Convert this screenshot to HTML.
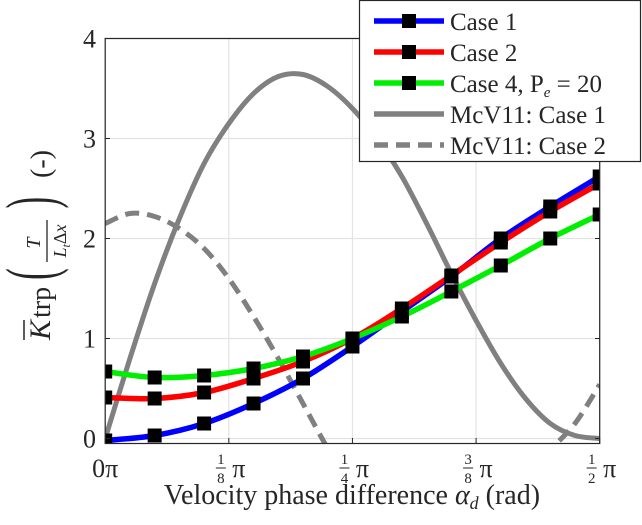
<!DOCTYPE html>
<html><head><meta charset="utf-8"><style>
html,body{margin:0;padding:0;background:#fff;overflow:hidden;width:642px;height:525px;}
svg{display:block;}
text{font-family:'Liberation Serif','DejaVu Serif',serif;}
</style></head><body>
<svg id="chart" width="642" height="525" viewBox="0 0 642 525" xmlns="http://www.w3.org/2000/svg">
<defs><clipPath id="pc"><rect x="105" y="38" width="495" height="406"/></clipPath></defs>
<g id="grid"></g>
<g id="series" clip-path="url(#pc)"></g>
<rect x="105.2" y="38.5" width="494.5" height="405" fill="none" stroke="#262626" stroke-width="1.2"/>
<g id="ticks"></g>
<text x="352" y="504" font-family="'Liberation Serif', serif" font-size="28" text-anchor="middle" fill="#262626">Velocity phase difference <tspan font-style="italic">α</tspan><tspan font-style="italic" font-size="18" dy="5">d</tspan><tspan dy="-5"> (rad)</tspan></text>
<g transform="translate(50,240) rotate(-90)" fill="#262626" font-family="'Liberation Serif', serif">
 <text x="-100" y="0" font-size="30" font-style="italic">K</text>
 <line x1="-100" y1="-26" x2="-80" y2="-26" stroke="#262626" stroke-width="1.5"/>
 <text x="-78" y="0" font-size="28">trp</text>
 <text x="-40" y="6" font-size="50" transform="scale(0.7,1.4) translate(-17,-3)">(</text>
 <text x="-3" y="-10" font-size="20" font-style="italic" text-anchor="middle">T</text>
 <line x1="-22" y1="-3" x2="20" y2="-3" stroke="#262626" stroke-width="1.3"/>
 <text x="-1" y="16" font-size="18" font-style="italic" text-anchor="middle">L<tspan font-size="12" dy="4">t</tspan><tspan dy="-4" font-style="normal">Δ</tspan>x</text>
 <text x="28" y="6" font-size="50" transform="scale(0.7,1.4) translate(17,-3)">)</text>
 <text x="62" y="0" font-size="28">(-)</text>
</g>
<g id="legend"></g>
</svg>
<script>
const xs = [0,0.05,0.1,0.15,0.2,0.25,0.3,0.35,0.4,0.45,0.5];
const case1 = [-0.02,0.03,0.15,0.35,0.6,0.92,1.27,1.62,2.0,2.32,2.62];
const case2 = [0.41,0.40,0.46,0.60,0.77,1.0,1.30,1.63,1.96,2.27,2.55];
const case4 = [0.67,0.61,0.63,0.70,0.82,1.0,1.22,1.47,1.73,2.0,2.24];
const xsFine = [0,0.025,0.05,0.075,0.1,0.125,0.15,0.175,0.2,0.225,0.25,0.275,0.3,0.325,0.35,0.375,0.4,0.425,0.45,0.475,0.5];
const mcv1 = [0,0.8,1.55,2.2,2.75,3.15,3.45,3.62,3.64,3.52,3.3,3.0,2.62,2.15,1.65,1.18,0.75,0.4,0.15,0.03,0];
const mcv2 = [2.15,2.25,2.22,2.1,1.9,1.6,1.22,0.8,0.35,-0.1,-0.5,-0.85,-1.1,-1.2,-1.15,-1.0,-0.75,-0.45,-0.12,0.15,0.54];
const xTickVals = [0,0.125,0.25,0.375,0.5];
const xTickNum = ["","1","1","3","1"];
const xTickDen = ["","8","4","8","2"];
const yTickVals = [0,1,2,3,4];

const FF = "'Liberation Serif', serif";
const X = v => 105.2 + v/0.5*494.5;
const Y = v => 438.5 - v*100;
const NS = "http://www.w3.org/2000/svg";
function mk(tag, attrs, parent){const e=document.createElementNS(NS,tag);for(const k in attrs)e.setAttribute(k,attrs[k]);if(tag==='text')e.setAttribute('font-family',FF);parent.appendChild(e);return e;}
function smooth(xv,yv){
  const p=xv.map((x,i)=>[X(x),Y(yv[i])]);
  let d=`M${p[0][0]},${p[0][1]}`;
  for(let i=0;i<p.length-1;i++){
    const p0=p[i-1]||p[i],p1=p[i],p2=p[i+1],p3=p[i+2]||p2;
    d+=` C${p1[0]+(p2[0]-p0[0])/6},${p1[1]+(p2[1]-p0[1])/6} ${p2[0]-(p3[0]-p1[0])/6},${p2[1]-(p3[1]-p1[1])/6} ${p2[0]},${p2[1]}`;
  }
  return d;
}
const grid=document.getElementById('grid'), ser=document.getElementById('series'), tk=document.getElementById('ticks'), lg=document.getElementById('legend');
xTickVals.forEach((v,i)=>{
  const gl=mk('line',{x1:X(v),x2:X(v),y1:38.5,y2:443.5,stroke:'#e3e3e3','stroke-width':1.2},grid);
  
  
  mk('line',{x1:X(v),x2:X(v),y1:443.5,y2:438,stroke:'#262626'},tk);
  const g=mk('g',{fill:'#262626'},tk);
  
  
  if(i===0){const t=mk('text',{x:X(v),y:477,'font-size':26,'text-anchor':'middle'},g);t.textContent='0π';}
  else{
    const a=mk('text',{x:X(v)-8,y:464,'font-size':15,'text-anchor':'middle'},g);a.textContent=xTickNum[i];
    mk('line',{x1:X(v)-13,x2:X(v)-3,y1:468,y2:468,stroke:'#262626'},g);
    const b=mk('text',{x:X(v)-8,y:483,'font-size':15,'text-anchor':'middle'},g);b.textContent=xTickDen[i];
    const c=mk('text',{x:X(v)+10,y:477,'font-size':26,'text-anchor':'middle'},g);c.textContent='π';
  }
});
yTickVals.forEach(v=>{
  const gl=mk('line',{x1:105.2,x2:599.7,y1:Y(v),y2:Y(v),stroke:'#e3e3e3','stroke-width':1.2},grid);
  
  
  mk('line',{x1:105.2,x2:110,y1:Y(v),y2:Y(v),stroke:'#262626'},tk);
  mk('line',{x1:599.7,x2:595,y1:Y(v),y2:Y(v),stroke:'#262626'},tk);
  const t=mk('text',{x:96,y:Y(v)+9,'font-size':26,'text-anchor':'end',fill:'#262626'},tk);
  
  
  t.textContent=v;
});
const l1=mk('path',{d:smooth(xsFine,mcv1),fill:'none',stroke:'#808080','stroke-width':5},ser);


const l2=mk('path',{d:smooth(xsFine,mcv2),fill:'none',stroke:'#808080','stroke-width':5,'stroke-dasharray':'14 8'},ser);


[[case1,'#0000ff','case1'],[case2,'#ff0000','case2'],[case4,'#00ee00','case4']].forEach(([ys,col,nm])=>{
  const p=mk('path',{d:smooth(xs,ys),fill:'none',stroke:col,'stroke-width':5.5},ser);
  
  
});
[[case1,'case1'],[case2,'case2'],[case4,'case4']].forEach(([ys,nm])=>{
  xs.forEach((x,i)=>{
    const r=mk('rect',{x:X(x)-7,y:Y(ys[i])-7,width:14,height:14,fill:'#000'},ser);
    
    
  });
});
const box=mk('rect',{x:359.5,y:0.5,width:281,height:161,fill:'#fff',stroke:'#262626','stroke-width':1.2},lg);


const entries=[['#0000ff','Case 1',true,false],['#ff0000','Case 2',true,false],['#00ee00','Case 4, P',true,false],['#808080','McV11: Case 1',false,false],['#808080','McV11: Case 2',false,true]];
entries.forEach(([col,label,mark,dash],i)=>{
  const y=21+i*31;
  const g=mk('g',{},lg);
  
  
  const ln=mk('line',{x1:374,x2:444,y1:y,y2:y,stroke:col,'stroke-width':5.5},g);
  if(dash)ln.setAttribute('stroke-dasharray','14 8');
  if(mark)mk('rect',{x:402,y:y-7,width:14,height:14,fill:'#000'},g);
  const t=mk('text',{x:450,y:y+9,'font-size':25,fill:'#262626'},g);
  t.textContent=label;
  if(i===2){
    const s=mk('tspan',{'font-size':15,'font-style':'italic',dy:5},t);s.textContent='e';
    const s2=mk('tspan',{dy:-5},t);s2.textContent=' = 20';
  }
});
</script>
</body></html>
